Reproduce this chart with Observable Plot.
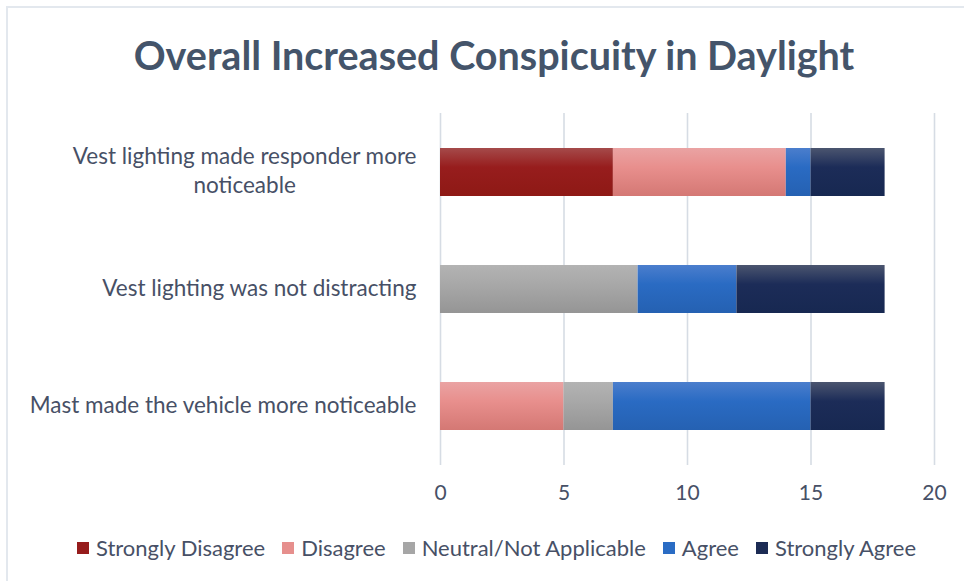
<!DOCTYPE html>
<html>
<head>
<meta charset="utf-8">
<script src="https://cdn.jsdelivr.net/npm/d3@7"></script>
<script src="https://cdn.jsdelivr.net/npm/@observablehq/plot@0.6"></script>
<style>
  html, body { margin: 0; padding: 0; background: #fff; }
  #frame { position: relative; width: 964px; height: 581px; overflow: hidden; background: #fff; font-family: Lato, "Open Sans", sans-serif; }
  #border { position: absolute; left: 6px; top: 6px; right: -10px; bottom: -10px; border-left: 2px solid #e3e8ee; border-top: 2px solid #e3e8ee; }
  #title { position: absolute; left: 0; width: 988px; top: 31px; text-align: center; font-weight: 700; font-size: 39.5px; line-height: 48px; color: #44546a; }
  #chart { position: absolute; left: 0; top: 100px; }
  #legend { position: absolute; left: 0; width: 993px; top: 535px; display: flex; justify-content: center; gap: 17px; font-size: 22px; line-height: 26px; color: #475066; }
  .item { display: flex; align-items: center; gap: 7px; }
  .sw { width: 12px; height: 12px; display: inline-block; }
</style>
</head>
<body>
<div id="frame">
  <div id="border"></div>
  <div id="title">Overall Increased Conspicuity in Daylight</div>
  <div id="chart"></div>
  <div id="legend"></div>
</div>
<script>
const categories = [
  "Vest lighting made responder more noticeable",
  "Vest lighting was not distracting",
  "Mast made the vehicle more noticeable"
];
const categoryLabels = [
  "Vest lighting made responder more\nnoticeable",
  "Vest lighting was not distracting",
  "Mast made the vehicle more noticeable"
];
const responses = ["Strongly Disagree", "Disagree", "Neutral/Not Applicable", "Agree", "Strongly Agree"];
const stronglyDisagree = [7, 0, 0];
const disagree = [7, 0, 5];
const neutral = [0, 8, 2];
const agree = [1, 4, 8];
const stronglyAgree = [3, 6, 3];
const xTicks = [0, 5, 10, 15, 20];

const solidColors = ["#961c1c", "#e68f8d", "#a6a6a6", "#2a6cc4", "#1c2b54"];
const gradientStops = [
  ["#a54a4a", "#971d1d", "#8e1915"],
  ["#eaa3a3", "#e88f8d", "#d47874"],
  ["#b3b3b3", "#a8a8a8", "#959595"],
  ["#4b7ecd", "#2a6bc3", "#2561b2"],
  ["#4b556f", "#1c2c58", "#172851"]
];

const series = [stronglyDisagree, disagree, neutral, agree, stronglyAgree];
const data = [];
responses.forEach((r, i) => {
  categories.forEach((c, j) => {
    if (series[i][j] > 0) data.push({response: r, category: c, value: series[i][j]});
  });
});
const gradIds = responses.map((r, i) => `grad${i}`);
const labelOf = new Map(categories.map((c, i) => [c, categoryLabels[i]]));

const chart = Plot.plot({
  width: 964,
  height: 420,
  marginTop: 13,
  marginBottom: 55,
  marginLeft: 440,
  marginRight: 30,
  style: {fontFamily: "Lato, 'Open Sans', sans-serif", fontSize: "22.5px", color: "#475066", background: "transparent"},
  x: {domain: [0, 20], ticks: xTicks},
  y: {domain: categories, paddingInner: 0.59, paddingOuter: 0.295, label: null},
  color: {domain: responses, range: gradIds.map(id => `url(#${id})`)},
  marks: [
    Plot.gridX({ticks: xTicks, stroke: "#d6dce4", strokeOpacity: 1, strokeWidth: 1.6}),
    Plot.barX(data, {y: "category", x: "value", fill: "response"}),
    Plot.axisX({ticks: xTicks, tickSize: 0, tickPadding: 20, label: null, fontSize: 21}),
    Plot.axisY({tickSize: 0, tickPadding: 24, dy: -3, label: null, tickFormat: d => labelOf.get(d), lineHeight: 1.3})
  ]
});

// gradients
const svgNS = "http://www.w3.org/2000/svg";
const defs = document.createElementNS(svgNS, "defs");
gradIds.forEach((id, i) => {
  const lg = document.createElementNS(svgNS, "linearGradient");
  lg.setAttribute("id", id);
  lg.setAttribute("x1", "0"); lg.setAttribute("y1", "0");
  lg.setAttribute("x2", "0"); lg.setAttribute("y2", "1");
  [[0, 0], [0.4, 1], [1, 2]].forEach(([off, k]) => {
    const s = document.createElementNS(svgNS, "stop");
    s.setAttribute("offset", off);
    s.setAttribute("stop-color", gradientStops[i][k]);
    lg.appendChild(s);
  });
  defs.appendChild(lg);
});
chart.insertBefore(defs, chart.firstChild);
document.getElementById("chart").appendChild(chart);

// center multi-line category labels within their block (Excel style)
chart.querySelectorAll('g[aria-label="y-axis tick label"] text').forEach(t => {
  const spans = t.querySelectorAll("tspan");
  if (spans.length > 1) {
    let w = 0;
    spans.forEach(s => { w = Math.max(w, s.getComputedTextLength()); });
    t.setAttribute("text-anchor", "middle");
    spans.forEach(s => s.setAttribute("x", -w / 2));
  }
});

// legend
const legend = document.getElementById("legend");
responses.forEach((r, i) => {
  const item = document.createElement("div");
  item.className = "item";
  const sw = document.createElement("span");
  sw.className = "sw";
  sw.style.background = solidColors[i];
  const tx = document.createElement("span");
  tx.textContent = r;
  item.appendChild(sw); item.appendChild(tx);
  legend.appendChild(item);
});
</script>
</body>
</html>
